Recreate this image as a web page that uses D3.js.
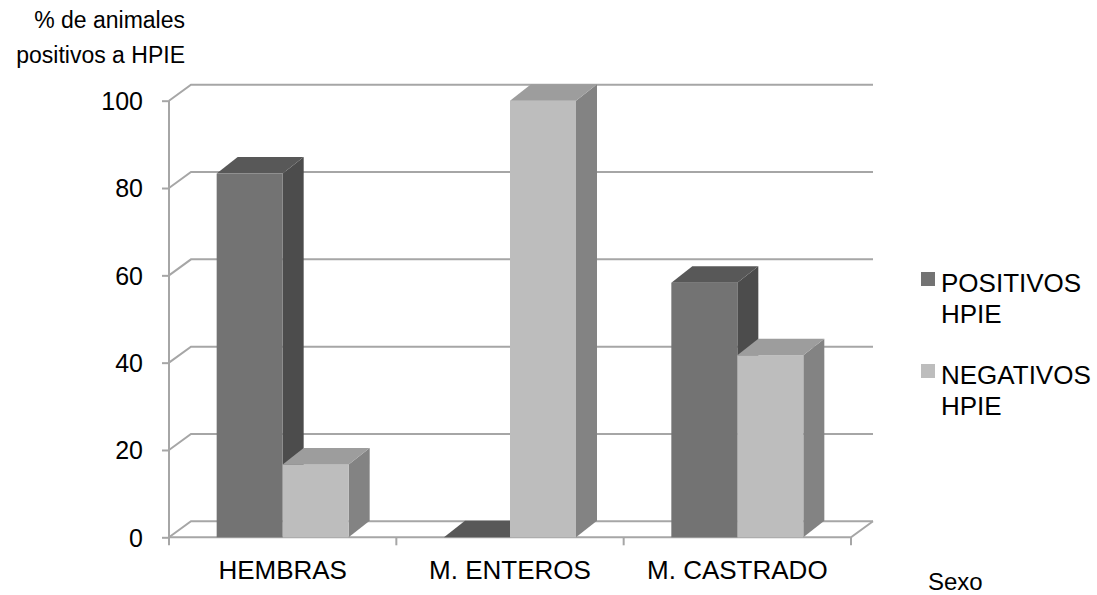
<!DOCTYPE html>
<html>
<head>
<meta charset="utf-8">
<script src="https://cdnjs.cloudflare.com/ajax/libs/d3/7.8.5/d3.min.js"></script>
<style>
  body { margin: 0; background: #fff; }
  text { font-family: "Liberation Sans", Arial, sans-serif; fill: #000; }
</style>
</head>
<body>
<svg id="chart"></svg>
<script>
const categories = ["HEMBRAS", "M. ENTEROS", "M. CASTRADO"];
const positivos = [83.3, 0, 58.3];
const negativos = [16.7, 100, 41.7];
const yTicks = [0, 20, 40, 60, 80, 100];
const seriesNames = [["POSITIVOS", "HPIE"], ["NEGATIVOS", "HPIE"]];

const width = 1097, height = 595;
const svg = d3.select("#chart").attr("width", width).attr("height", height);

// front plane of the 3d box
const x0 = 169, x1 = 851;
const wallDx = 22, wallDy = -16;   // depth of walls
const barDx = 21, barDy = -16.5;   // depth of bars
const barW = 66;
const gridColor = "#a6a6a6";

const y = d3.scaleLinear().domain([0, 100]).range([537.3, 100.7]);
const x = d3.scaleBand().domain(categories).range([x0, x1]).padding(0);

const colors = [
  {front: "#737373", top: "#585858", side: "#4c4c4c"},
  {front: "#bdbdbd", top: "#9d9d9d", side: "#838383"}
];

// back wall gridlines + left wall diagonals
const grid = svg.append("g");
yTicks.forEach(v => {
  grid.append("path")
    .attr("d", `M${x0},${y(v)}L${x0 + wallDx},${y(v) + wallDy}L${x1 + wallDx},${y(v) + wallDy}`)
    .attr("fill", "none").attr("stroke", gridColor).attr("stroke-width", 2);
});

// floor front edge and right diagonal
grid.append("path")
  .attr("d", `M${x0},${y(0)}L${x1},${y(0)}L${x1 + wallDx},${y(0) + wallDy}`)
  .attr("fill", "none").attr("stroke", gridColor).attr("stroke-width", 2);

// y axis
const yAxis = svg.append("g")
  .attr("transform", `translate(${x0},0)`)
  .call(d3.axisLeft(y).tickValues(yTicks).tickSize(7).tickPadding(19));
yAxis.select(".domain").remove();
yAxis.selectAll(".tick line").attr("stroke", gridColor).attr("stroke-width", 2);
yAxis.selectAll(".tick text")
  .style("font-size", "25px")
  .attr("dy", "0.35em")
  .style("font-family", "'Liberation Sans', Arial, sans-serif");

svg.append("line")
  .attr("x1", x0).attr("x2", x0)
  .attr("y1", y(100)).attr("y2", y(0) + 6)
  .attr("stroke", gridColor).attr("stroke-width", 2);

// category boundary ticks
const bounds = categories.map(c => x(c)).concat([x1]);
svg.append("g").selectAll("line")
  .data(bounds)
  .join("line")
    .attr("x1", d => d).attr("x2", d => d)
    .attr("y1", y(0)).attr("y2", y(0) + 8)
    .attr("stroke", gridColor).attr("stroke-width", 2);

// category labels
const xAxis = svg.append("g")
  .attr("transform", `translate(0,${y(0)})`)
  .call(d3.axisBottom(x).tickSize(0).tickPadding(23));
xAxis.select(".domain").remove();
xAxis.selectAll(".tick text")
  .style("font-size", "26px")
  .style("font-family", "'Liberation Sans', Arial, sans-serif");

// 3d bars
function drawBar(g, bx, v, c) {
  const yt = y(v), yb = y(0);
  // side face
  g.append("path")
    .attr("d", `M${bx + barW},${yb}L${bx + barW},${yt}L${bx + barW + barDx},${yt + barDy}L${bx + barW + barDx},${yb + barDy}Z`)
    .attr("fill", c.side);
  // front face
  g.append("rect")
    .attr("x", bx).attr("y", yt).attr("width", barW).attr("height", yb - yt)
    .attr("fill", c.front);
  // top face
  g.append("path")
    .attr("d", `M${bx},${yt}L${bx + barDx},${yt + barDy}L${bx + barW + barDx},${yt + barDy}L${bx + barW},${yt}Z`)
    .attr("fill", c.top);
}

const bars = svg.append("g");
categories.forEach((cat, i) => {
  const cx = x(cat) + x.bandwidth() / 2;
  drawBar(bars, cx - barW, positivos[i], colors[0]);
  drawBar(bars, cx, negativos[i], colors[1]);
});

// y axis title
const yTitle = svg.append("text")
  .attr("text-anchor", "end")
  .style("font-size", "23px");
yTitle.append("tspan").attr("x", 185).attr("y", 28).text("% de animales");
yTitle.append("tspan").attr("x", 185).attr("y", 63).text("positivos a HPIE");

// x axis title
svg.append("text")
  .attr("x", 928).attr("y", 590)
  .style("font-size", "24px")
  .text("Sexo");

// legend
const legend = svg.append("g");
const legendTop = [272, 364];
seriesNames.forEach((name, i) => {
  legend.append("rect")
    .attr("x", 921).attr("y", legendTop[i])
    .attr("width", 14).attr("height", 14)
    .attr("fill", colors[i].front);
  const t = legend.append("text").style("font-size", "26px");
  name.forEach((line, j) => {
    t.append("tspan").attr("x", 941).attr("y", legendTop[i] + 20 + j * 31).text(line);
  });
});
</script>
</body>
</html>
